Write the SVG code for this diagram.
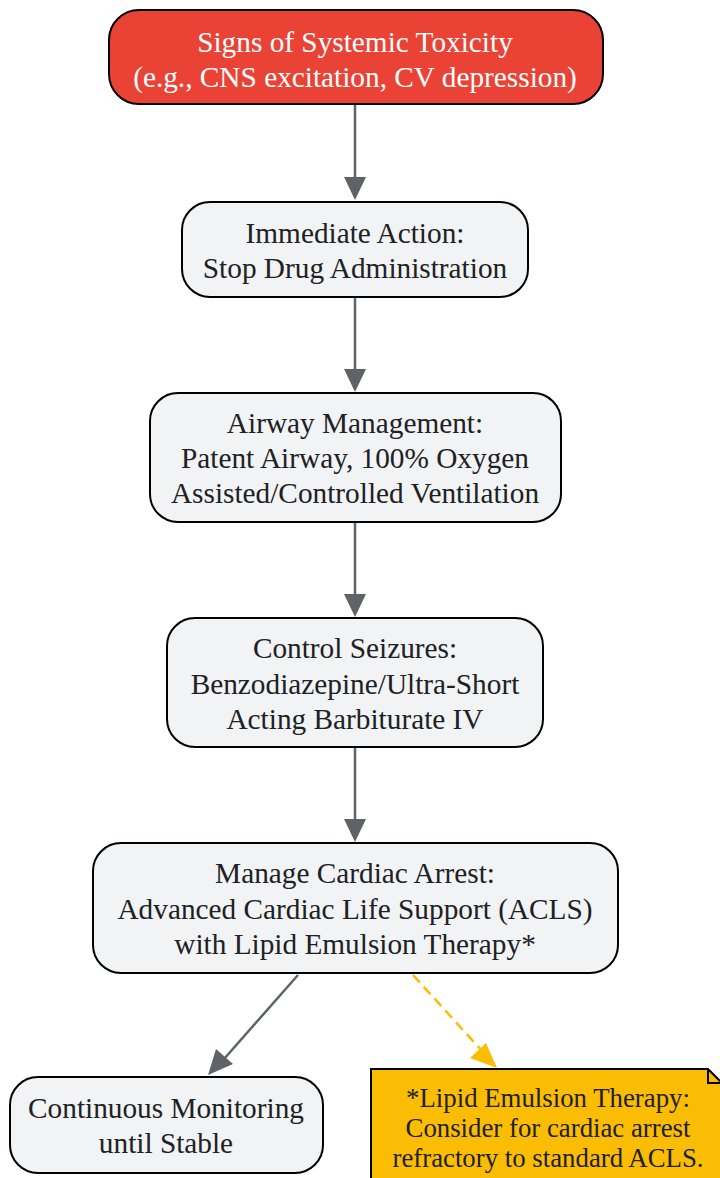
<svg xmlns="http://www.w3.org/2000/svg" width="720" height="1178" viewBox="0 0 720 1178">
<style>
.box{fill:#F1F3F4;stroke:#000;stroke-width:2}
.t{font-family:"Liberation Serif","Times New Roman",serif;font-size:29.3px;fill:#202124;text-anchor:middle}
.w{fill:#fff}
.n{font-size:26.8px}
.e{stroke:#5F6368;stroke-width:2.5;fill:none}
.d{stroke:#FBBC04;stroke-width:2.5;fill:none;stroke-dasharray:10,6}
</style>
<g id="connectors">
<path class="e" d="M355,105 V178"/>
<path d="M344,177 L355,200 L366,177 z" fill="#5F6368"/>
<path class="e" d="M355,298 V370"/>
<path d="M344,369 L355,392 L366,369 z" fill="#5F6368"/>
<path class="e" d="M355,523 V595"/>
<path d="M344,594 L355,617 L366,594 z" fill="#5F6368"/>
<path class="e" d="M355,748 V820"/>
<path d="M344,819 L355,842 L366,819 z" fill="#5F6368"/>
<path class="e" d="M298,975 L224,1059"/>
<path d="M216,1049 L208,1075 L233,1064 z" fill="#5F6368"/>
<path class="d" d="M413,975 L484,1053"/>
<path d="M470,1058 L497,1068 L486,1043 z" fill="#FBBC04"/>
</g>
<g id="n1">
<rect x="109" y="10" width="494" height="94" rx="30" fill="#EA4335" stroke="#000" stroke-width="2"/>
<text class="t w" x="355" y="52">Signs of Systemic Toxicity</text>
<text class="t w" x="355" y="87">(e.g., CNS excitation, CV depression)</text>
</g>
<g id="n2">
<rect class="box" x="182" y="202" width="346" height="95" rx="28"/>
<text class="t" x="355" y="243">Immediate Action:</text>
<text class="t" x="355" y="278">Stop Drug Administration</text>
</g>
<g id="n3">
<rect class="box" x="150" y="393" width="411" height="129" rx="28"/>
<text class="t" x="355" y="433">Airway Management:</text>
<text class="t" x="355" y="468">Patent Airway, 100% Oxygen</text>
<text class="t" x="355" y="503">Assisted/Controlled Ventilation</text>
</g>
<g id="n4">
<rect class="box" x="167" y="618" width="376" height="129" rx="28"/>
<text class="t" x="355" y="658">Control Seizures:</text>
<text class="t" x="355" y="694">Benzodiazepine/Ultra-Short</text>
<text class="t" x="355" y="729">Acting Barbiturate IV</text>
</g>
<g id="n5">
<rect class="box" x="93" y="843" width="525" height="130" rx="28"/>
<text class="t" x="355" y="883">Manage Cardiac Arrest:</text>
<text class="t" x="355" y="919">Advanced Cardiac Life Support (ACLS)</text>
<text class="t" x="355" y="954">with Lipid Emulsion Therapy*</text>
</g>
<g id="n6">
<rect class="box" x="10" y="1077" width="313" height="96" rx="28"/>
<text class="t" x="166" y="1118">Continuous Monitoring</text>
<text class="t" x="166" y="1153">until Stable</text>
</g>
<g id="note">
<path d="M371,1069 H708 L722,1083 V1190 H371 Z" fill="#FBBC04" stroke="#000" stroke-width="2"/>
<path d="M708,1069 V1083 H722" fill="none" stroke="#000" stroke-width="2"/>
<text class="t n" x="548" y="1107">*Lipid Emulsion Therapy:</text>
<text class="t n" x="548" y="1137">Consider for cardiac arrest</text>
<text class="t n" x="548" y="1167">refractory to standard ACLS.</text>
</g>
</svg>
